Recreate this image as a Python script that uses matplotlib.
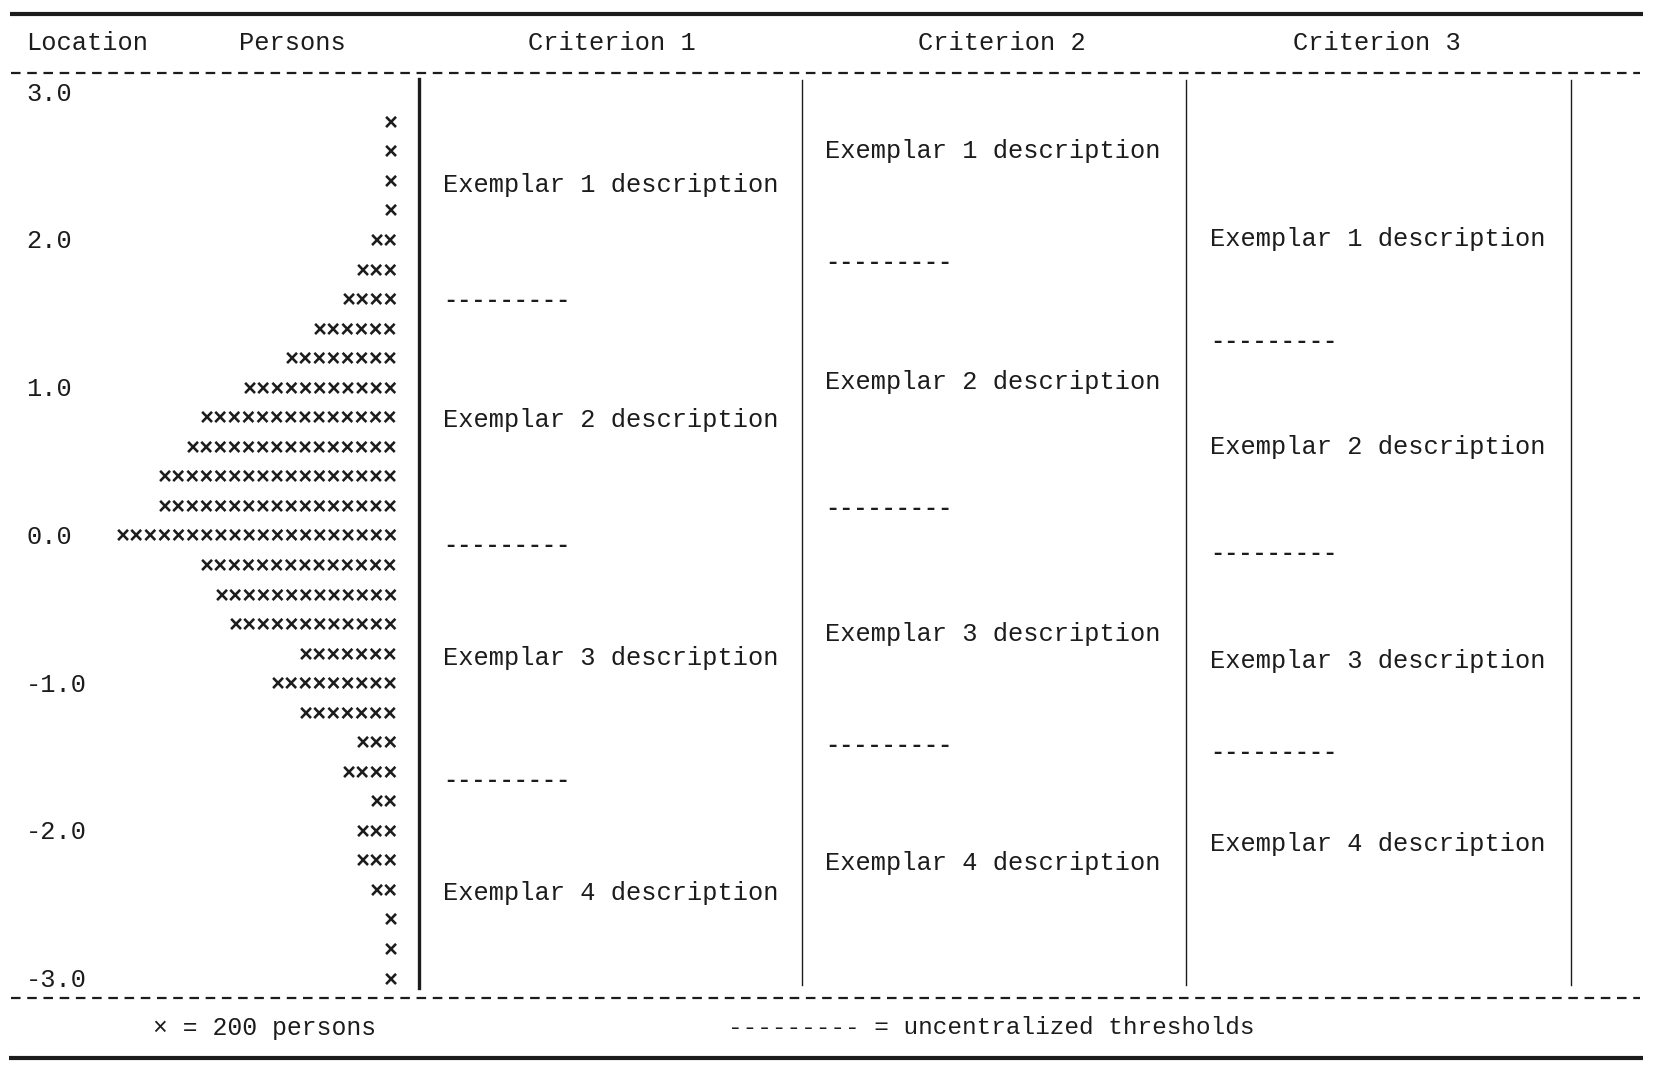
import matplotlib.pyplot as plt

# Wright map: persons distribution and criterion thresholds
plt.rcParams['font.family'] = ['Liberation Mono', 'DejaVu Sans']

# Persons: one row per 0.2 logit bin, number of symbols (1 symbol = 200 persons)
locations = [2.8, 2.6, 2.4, 2.2, 2.0, 1.8, 1.6, 1.4, 1.2, 1.0,
             0.8, 0.6, 0.4, 0.2, 0.0, -0.2, -0.4, -0.6, -0.8, -1.0,
             -1.2, -1.4, -1.6, -1.8, -2.0, -2.2, -2.4, -2.6, -2.8, -3.0]
counts = [1, 1, 1, 1, 2, 3, 4, 6, 8, 11,
          14, 15, 17, 17, 20, 14, 13, 12, 7, 9,
          7, 3, 4, 2, 3, 3, 2, 1, 1, 1]

tick_values = [3.0, 2.0, 1.0, 0.0, -1.0, -2.0, -3.0]
tick_labels = ['3.0', '2.0', '1.0', '0.0', '-1.0', '-2.0', '-3.0']

criteria = ['Criterion 1', 'Criterion 2', 'Criterion 3']
exemplars = ['Exemplar 1 description', 'Exemplar 2 description',
             'Exemplar 3 description', 'Exemplar 4 description']

# uncentralized thresholds per criterion
thresholds_c1 = [1.60, -0.06, -1.65]
thresholds_c2 = [1.86, 0.19, -1.41]
thresholds_c3 = [1.32, -0.11, -1.46]

# where the exemplar descriptions sit on the scale
exemplar_loc_c1 = [2.38, 0.79, -0.82, -2.41]
exemplar_loc_c2 = [2.61, 1.05, -0.66, -2.21]
exemplar_loc_c3 = [2.02, 0.61, -0.84, -2.08]

ink = '#1c1c1c'
fs = 18.3

fig = plt.figure(figsize=(16.54, 10.71), dpi=100)

# layer for rules, header and footer (pixel coordinates)
deco = fig.add_axes([0, 0, 1, 1])
deco.set_xlim(0, 1654)
deco.set_ylim(1071, 0)
deco.axis('off')

# layer for the scale (logit units)
ax = fig.add_axes([0, 0, 1, 1])
ax.set_xlim(0, 1654)
ax.set_ylim(-3.616, 3.635)
ax.axis('off')
ax.patch.set_alpha(0)

# frame rules
deco.plot([10, 1643], [14, 14], color=ink, lw=3, solid_capstyle='butt')
deco.plot([9, 1643], [1058, 1058], color=ink, lw=3, solid_capstyle='butt')
dash = (0, (4.3, 3.0))
deco.plot([11, 1640], [73, 73], color=ink, lw=1.6, linestyle=dash)
deco.plot([11, 1640], [998, 998], color=ink, lw=1.6, linestyle=dash)

# column separators
deco.plot([419, 419], [79, 988], color=ink, lw=2.4)
for xs in [802, 1186, 1571]:
    deco.plot([xs, xs], [80, 985], color=ink, lw=1.0)

# header
deco.text(26, 43, 'Location', fontsize=fs, va='center', color=ink)
deco.text(239, 43, 'Persons', fontsize=fs, va='center', color=ink)
for xc, name in zip([612, 1002, 1377], criteria):
    deco.text(xc, 43, name, fontsize=fs, va='center', ha='center', color=ink)

# footer
deco.text(153, 1028, '\u00d7 = 200 persons', fontsize=17.8, va='center', color=ink)
deco.text(728, 1028, '--------- = uncentralized thresholds', fontsize=17.6,
          va='center', color=ink)

# location labels
for v, lab in zip(tick_values, tick_labels):
    ax.text(26, v, lab, fontsize=fs, va='center', color=ink)

# persons distribution
for loc, n in zip(locations, counts):
    ax.text(398, loc, '\u00d7' * n, fontsize=16.9, va='center', ha='right',
            color=ink, fontweight='bold')

# criteria columns
columns = [(443, thresholds_c1, exemplar_loc_c1),
           (825, thresholds_c2, exemplar_loc_c2),
           (1210, thresholds_c3, exemplar_loc_c3)]
for x0, thr, ex_loc in columns:
    for loc, label in zip(ex_loc, exemplars):
        ax.text(x0, loc, label, fontsize=fs, va='center', color=ink)
    for t in thr:
        ax.text(x0, t, '---------', fontsize=17, va='center', color=ink,
                fontweight='bold')

fig.savefig('out.png', dpi=100)
